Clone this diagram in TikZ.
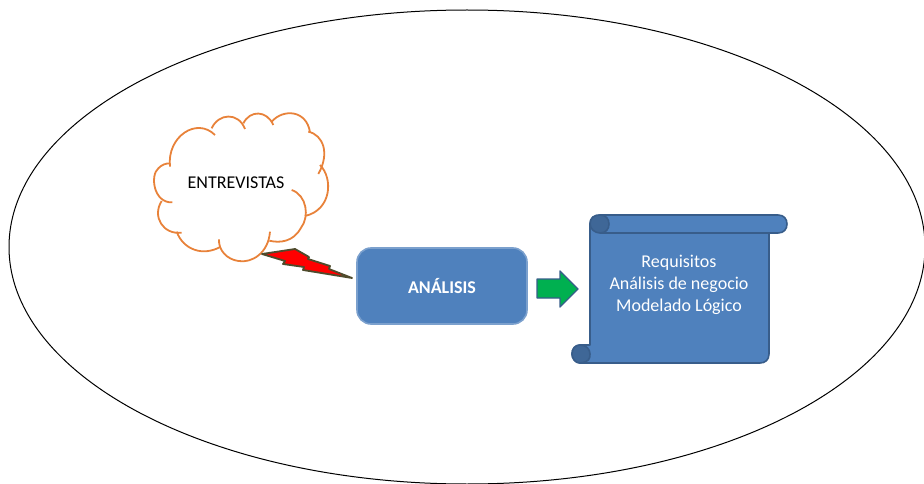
\documentclass[tikz,border=0pt]{standalone}
\usepackage{fontspec}
\setmainfont{Carlito}
\definecolor{cajaazul}{HTML}{4F81BD}
\definecolor{bordeazul}{HTML}{385D8A}
\definecolor{rizoazul}{HTML}{3F6797}
\definecolor{nubenaranja}{HTML}{E8823A}
\definecolor{flechaverde}{HTML}{00B050}
\definecolor{rayooscuro}{HTML}{4F4B2C}
\begin{document}
\begin{tikzpicture}
			[
				x = 1pt,
				y = -1pt,
				line join = round,
				caja/.style  = {draw=#1, fill=cajaazul, line width=1.6pt},
				caja/.default = bordeazul,
				texto/.style = {align=center, inner sep=0pt, font=\fontsize{18}{22}\selectfont}
			]
			\clip (0,0) rectangle (924,484);
			% contorno
			\draw [line width=1pt] (467,247) ellipse [x radius=458, y radius=237];
			% nube
			\begin{scope}[shift={(140,100)}, x=1pt/3, y=-1pt/3, draw=nubenaranja, line width=1.8pt, fill=white]
				\draw (90,200) .. controls (80,110) and (170,50) .. (225,105);
				\draw (215,85) .. controls (235,40) and (295,35) .. (315,87);
				\draw (310,70) .. controls (330,30) and (380,30) .. (400,75);
				\draw (395,65) .. controls (430,25) and (500,30) .. (510,97);
				\draw (505,95) .. controls (550,105) and (570,160) .. (535,222);
				\draw (540,195) .. controls (580,235) and (575,330) .. (495,348);
				\draw (455,270) .. controls (500,285) and (510,350) .. (482,385) .. controls (460,425) and (420,430) .. (388,422);
				\draw (390,395) .. controls (385,460) and (335,490) .. (295,483) .. controls (260,478) and (235,450) .. (237,418);
				\draw (242,440) .. controls (190,470) and (130,450) .. (110,395);
				\draw (125,398) .. controls (70,405) and (35,350) .. (65,303);
				\draw (97,307) .. controls (40,310) and (30,225) .. (55,205) .. controls (65,195) and (75,190) .. (90,190);
			\end{scope}
			\node [texto] (entrevistas) at (236,183) {ENTREVISTAS};
			% rayo
			\draw [fill=red, draw=rayooscuro, line width=1.8pt]
				(262,254) -- (295,249) -- (309,257) -- (308,259) -- (330,266) -- (329,269) -- (352,278)
				-- (303,270) -- (304,267) -- (283,264) -- (285,261) -- cycle;
			% analisis
			\node [caja=cajaazul!75!white, rounded corners=14pt, minimum width=170pt, minimum height=76pt, inner sep=0pt,
				text=white, font=\fontsize{18}{22}\selectfont\bfseries] (analisis) at (442,286) {ANÁLISIS};
			% flecha
			\draw [fill=flechaverde, draw=bordeazul, line width=1.4pt]
				(537,279) -- (560,279) -- (560,271) -- (578,289) -- (560,307) -- (560,298) -- (537,298) -- cycle;
			% pergamino
			\draw [caja]
				(590,224) .. controls (590,218) and (594,215) .. (600,215) -- (778,215)
				.. controls (784,215) and (787,219) .. (787,224) .. controls (787,229) and (784,233) .. (778,233)
				-- (769,233) -- (769,354) .. controls (769,360) and (765,363) .. (760,363)
				-- (580,363) .. controls (575,363) and (572,358) .. (572,354) .. controls (572,349) and (575,345) .. (580,345)
				-- (590,345) -- cycle;
			\draw [caja] (600,233) -- (769,233);
			\draw [caja, fill=rizoazul] (600,215) .. controls (606,215) and (609,219) .. (609,224)
				.. controls (609,229) and (606,233) .. (600,233) .. controls (595,233) and (590,229) .. (590,224)
				.. controls (590,218) and (594,215) .. (600,215) -- cycle;
			\draw [caja, fill=rizoazul] (580,345) .. controls (586,345) and (590,349) .. (590,354)
				.. controls (590,359) and (589,362) .. (580,363) .. controls (575,363) and (572,358) .. (572,354)
				.. controls (572,349) and (575,345) .. (580,345) -- cycle;
			\node [texto, text=white] (requisitos) at (679,285) {Requisitos\\Análisis de negocio\\Modelado Lógico};
\end{tikzpicture}
\end{document}
